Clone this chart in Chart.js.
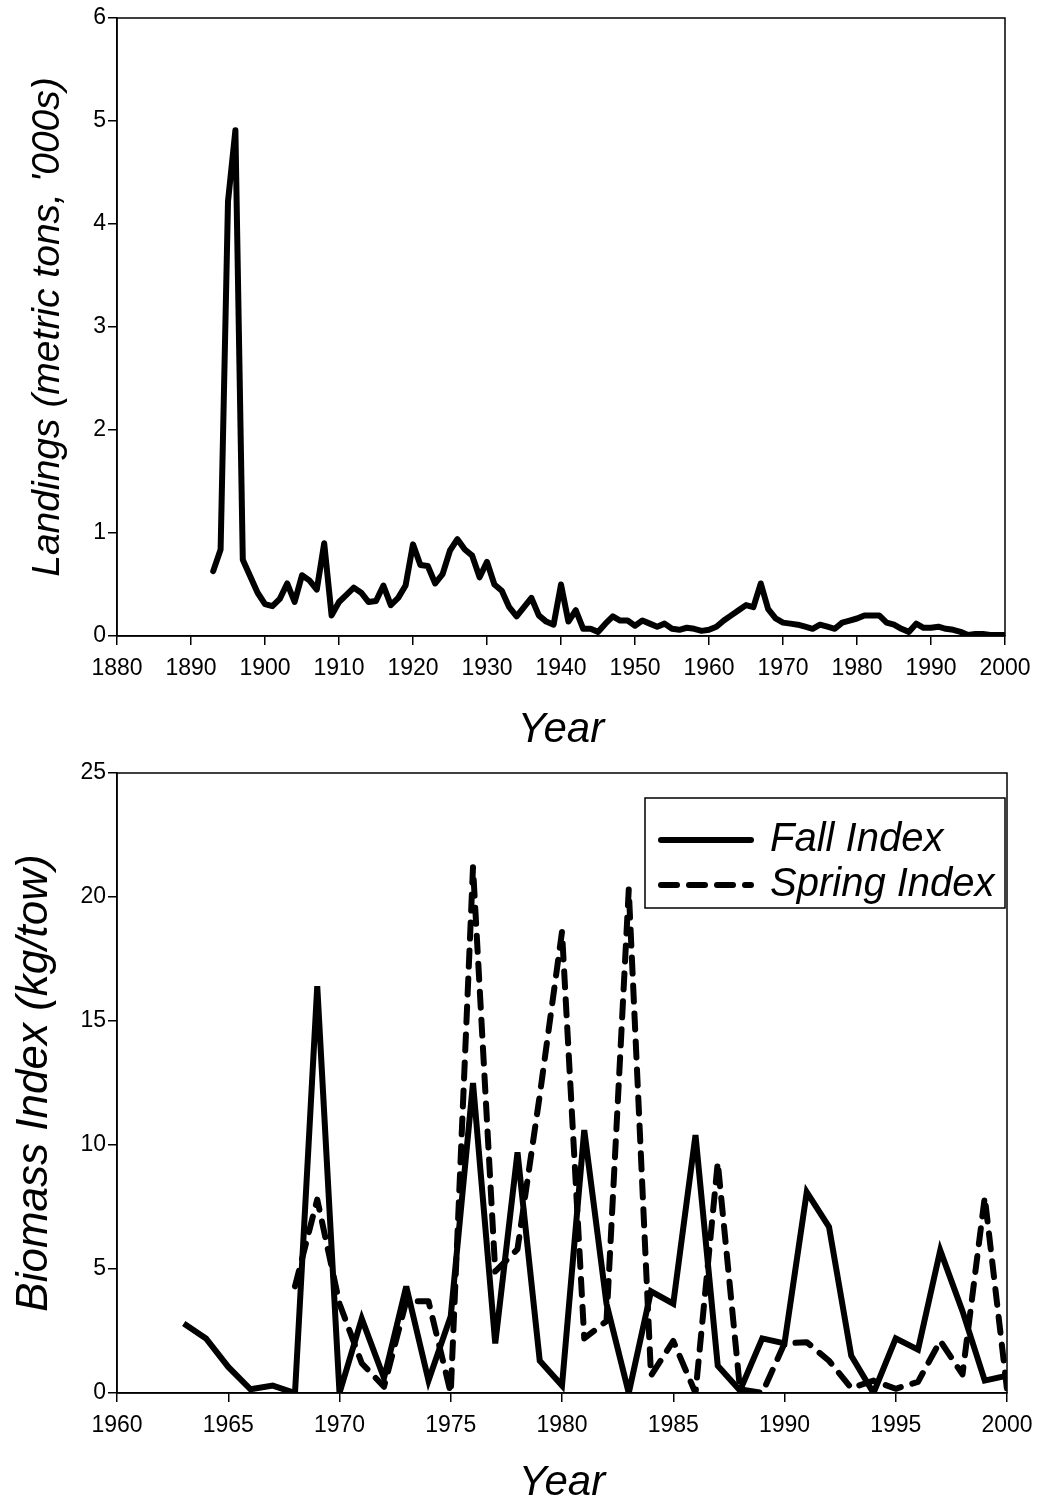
<!DOCTYPE html>
<html>
<head>
<meta charset="utf-8">
<script src="https://cdn.jsdelivr.net/npm/chart.js@4.4.0/dist/chart.umd.min.js"></script>
<style>
  html, body { margin: 0; padding: 0; background: #fff; }
  #wrap1 { position: absolute; left: 0; top: 0; width: 1038px; height: 760px; }
  #wrap2 { position: absolute; left: 0; top: 755px; width: 1038px; height: 749px; }
</style>
</head>
<body>
<div id="wrap1"><canvas id="landings"></canvas></div>
<div id="wrap2"><canvas id="biomass"></canvas></div>
<script>
// landings, 1893-2000 ('000 metric tons)
const landingYears = [
  1893, 1894, 1895, 1896, 1897, 1898, 1899,
  1900, 1901, 1902, 1903, 1904, 1905, 1906, 1907, 1908, 1909,
  1910, 1911, 1912, 1913, 1914, 1915, 1916, 1917, 1918, 1919,
  1920, 1921, 1922, 1923, 1924, 1925, 1926, 1927, 1928, 1929,
  1930, 1931, 1932, 1933, 1934, 1935, 1936, 1937, 1938, 1939,
  1940, 1941, 1942, 1943, 1944, 1945, 1946, 1947, 1948, 1949,
  1950, 1951, 1952, 1953, 1954, 1955, 1956, 1957, 1958, 1959,
  1960, 1961, 1962, 1963, 1964, 1965, 1966, 1967, 1968, 1969,
  1970, 1971, 1972, 1973, 1974, 1975, 1976, 1977, 1978, 1979,
  1980, 1981, 1982, 1983, 1984, 1985, 1986, 1987, 1988, 1989,
  1990, 1991, 1992, 1993, 1994, 1995, 1996, 1997, 1998, 1999,
  2000
];
const landings = [
  0.63, 0.84, 4.22, 4.91, 0.74, 0.58, 0.42,
  0.31, 0.29, 0.36, 0.51, 0.33, 0.59, 0.54, 0.45, 0.90, 0.20,
  0.33, 0.40, 0.47, 0.42, 0.33, 0.34, 0.49, 0.30, 0.37, 0.49,
  0.89, 0.69, 0.68, 0.51, 0.60, 0.83, 0.94, 0.84, 0.78, 0.57,
  0.72, 0.50, 0.44, 0.28, 0.19, 0.28, 0.37, 0.20, 0.14, 0.11,
  0.50, 0.14, 0.25, 0.07, 0.07, 0.04, 0.12, 0.19, 0.15, 0.15,
  0.10, 0.15, 0.12, 0.09, 0.12, 0.07, 0.06, 0.08, 0.07, 0.05,
  0.06, 0.09, 0.15, 0.20, 0.25, 0.30, 0.28, 0.51, 0.26, 0.17,
  0.13, 0.12, 0.11, 0.09, 0.07, 0.11, 0.09, 0.07, 0.13, 0.15,
  0.17, 0.20, 0.20, 0.20, 0.13, 0.11, 0.07, 0.04, 0.12, 0.08,
  0.08, 0.09, 0.07, 0.06, 0.04, 0.01, 0.02, 0.02, 0.01, 0.01,
  0.01
];

// survey biomass indices (kg/tow)
const fallYears = [
  1963, 1964, 1965, 1966, 1967, 1968, 1969,
  1970, 1971, 1972, 1973, 1974, 1975, 1976, 1977, 1978, 1979,
  1980, 1981, 1982, 1983, 1984, 1985, 1986, 1987, 1988, 1989,
  1990, 1991, 1992, 1993, 1994, 1995, 1996, 1997, 1998, 1999,
  2000
];
const fallIndex = [
  2.8, 2.2, 1.05, 0.15, 0.3, 0.0, 16.4,
  0.0, 3.0, 0.6, 4.3, 0.5, 3.1, 12.5, 2.0, 9.7, 1.3,
  0.3, 10.6, 3.6, 0.0, 4.1, 3.6, 10.4, 1.1, 0.1, 2.2,
  2.0, 8.1, 6.7, 1.5, 0.0, 2.2, 1.75, 5.75, 3.3, 0.5,
  0.7
];
const springYears = [
  1968, 1969,
  1970, 1971, 1972, 1973, 1974, 1975, 1976, 1977, 1978, 1979,
  1980, 1981, 1982, 1983, 1984, 1985, 1986, 1987, 1988, 1989,
  1990, 1991, 1992, 1993, 1994, 1995, 1996, 1997, 1998, 1999,
  2000
];
const springIndex = [
  4.3, 7.8,
  3.6, 1.2, 0.25, 3.7, 3.7, 0.0, 21.2, 4.9, 5.8, 12.0,
  18.6, 2.2, 2.9, 20.3, 0.7, 2.1, 0.0, 9.3, 0.15, 0.0,
  2.0, 2.05, 1.3, 0.2, 0.5, 0.17, 0.45, 2.1, 0.75, 7.9,
  0.15
];

const FONT = 'Arial, "Liberation Sans", sans-serif';

function pts(xs, ys) {
  return xs.map((x, i) => ({ x: x, y: ys[i] }));
}

// keep sharp peaks from turning into long miter spikes
const miter = {
  id: 'miter',
  beforeDatasetsDraw(chart) { chart.ctx.miterLimit = 4; }
};

// box around the plot area
const frame = {
  id: 'frame',
  afterDraw(chart) {
    const a = chart.chartArea, ctx = chart.ctx;
    ctx.save();
    ctx.strokeStyle = '#000';
    ctx.lineWidth = 1.5;
    ctx.strokeRect(a.left, a.top, a.right - a.left, a.bottom - a.top);
    ctx.restore();
  }
};

// boxed legend in the upper right of the plot
const boxLegend = {
  id: 'boxLegend',
  afterDraw(chart) {
    const a = chart.chartArea, ctx = chart.ctx;
    const w = 360, h = 110;
    const x0 = a.right - w - 2, y0 = a.top + 25;
    ctx.save();
    ctx.fillStyle = '#fff';
    ctx.fillRect(x0, y0, w, h);
    ctx.strokeStyle = '#000';
    ctx.lineWidth = 1.5;
    ctx.strokeRect(x0, y0, w, h);
    chart.data.datasets.forEach((ds, i) => {
      const y = y0 + 42 + i * 45;
      ctx.beginPath();
      ctx.setLineDash(ds.borderDash || []);
      ctx.lineCap = 'round';
      ctx.lineWidth = ds.borderWidth;
      ctx.moveTo(x0 + 16, y);
      ctx.lineTo(x0 + 106, y);
      ctx.stroke();
      ctx.setLineDash([]);
      ctx.fillStyle = '#000';
      ctx.font = 'italic 40px ' + FONT;
      ctx.textBaseline = 'middle';
      ctx.fillText(ds.label, x0 + 125, y);
    });
    ctx.restore();
  }
};

function scales(o) {
  return {
    x: {
      type: 'linear',
      min: o.xMin, max: o.xMax,
      afterFit(s) {
        s.height = o.xHeight;
        // let layout.padding alone decide the plot edges
        s.paddingLeft = 0;
        s.paddingRight = 0;
      },
      ticks: {
        stepSize: o.xStep, color: '#000', padding: 10,
        font: { family: FONT, size: 23 },
        callback: v => String(v),
        maxRotation: 0
      },
      grid: { drawOnChartArea: false, tickLength: 9, color: '#000', lineWidth: 1.5 },
      border: { color: '#000', width: 1.5 },
      title: {
        display: true, text: 'Year', color: '#000',
        font: { family: FONT, size: 42, style: 'italic', lineHeight: 1 },
        padding: { top: 0, bottom: o.xTitlePad }
      }
    },
    y: {
      min: o.yMin, max: o.yMax,
      afterFit(s) { s.width = 117; },
      ticks: {
        stepSize: o.yStep, color: '#000', padding: 2,
        font: { family: FONT, size: 23 }
      },
      grid: { drawOnChartArea: false, tickLength: 9, color: '#000', lineWidth: 1.5 },
      border: { color: '#000', width: 1.5 },
      title: {
        display: true, text: o.yTitle, color: '#000',
        font: { family: FONT, size: o.yTitleSize, style: 'italic' },
        padding: { top: o.yTitlePad, bottom: 0 }
      }
    }
  };
}

const common = {
  responsive: true,
  maintainAspectRatio: false,
  animation: false,
  plugins: { legend: { display: false }, tooltip: { enabled: false } },
  elements: { point: { radius: 0 }, line: { tension: 0 } }
};

new Chart(document.getElementById('landings'), {
  type: 'line',
  data: {
    datasets: [{
      label: 'Landings',
      data: pts(landingYears, landings),
      borderColor: '#000',
      borderWidth: 6,
      borderJoinStyle: 'round',
      borderCapStyle: 'round',
      fill: false
    }]
  },
  options: Object.assign({}, common, {
    layout: { padding: { top: 18, right: 33, left: 0, bottom: 0 } },
    scales: scales({
      xMin: 1880, xMax: 2000, xStep: 10, xHeight: 124, xTitlePad: 9,
      yMin: 0, yMax: 6, yStep: 1, yTitlePad: 25, yTitleSize: 39,
      yTitle: "Landings (metric tons, '000s)"
    })
  }),
  plugins: [frame]
});

new Chart(document.getElementById('biomass'), {
  type: 'line',
  data: {
    datasets: [{
      label: 'Fall Index',
      data: pts(fallYears, fallIndex),
      borderColor: '#000',
      borderWidth: 6,
      borderJoinStyle: 'miter',
      fill: false
    }, {
      label: 'Spring Index',
      data: pts(springYears, springIndex),
      borderColor: '#000',
      borderWidth: 6,
      borderDash: [16, 12],
      borderCapStyle: 'round',
      borderJoinStyle: 'round',
      fill: false
    }]
  },
  options: Object.assign({}, common, {
    layout: { padding: { top: 18, right: 31, left: 0, bottom: 0 } },
    scales: scales({
      xMin: 1960, xMax: 2000, xStep: 5, xHeight: 111, xTitlePad: 0,
      yMin: 0, yMax: 25, yStep: 5, yTitlePad: 8, yTitleSize: 44,
      yTitle: 'Biomass Index (kg/tow)'
    })
  }),
  plugins: [miter, frame, boxLegend]
});
</script>
</body>
</html>
